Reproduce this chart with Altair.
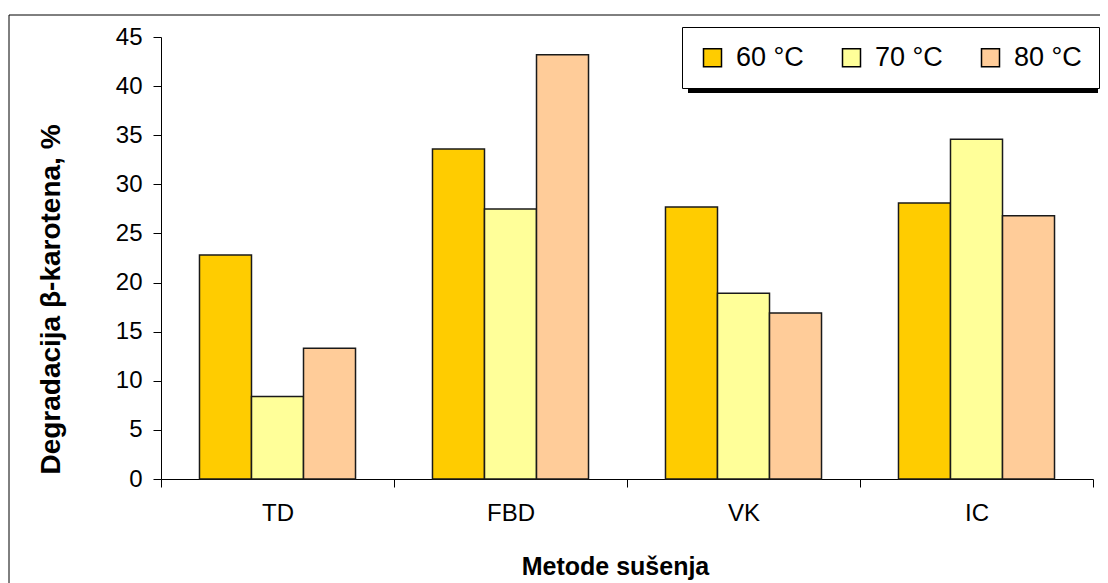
import altair as alt
import pandas as pd

methods = ["TD", "FBD", "VK", "IC"]
temps = ["60 °C", "70 °C", "80 °C"]
t60 = [22.8, 33.6, 27.7, 28.1]
t70 = [8.4, 27.5, 18.9, 34.6]
t80 = [13.3, 43.2, 16.9, 26.8]
colors = ["#FFCC00", "#FFFF99", "#FFCC99"]

rows = []
for i, m in enumerate(methods):
    for t, vals in zip(temps, [t60, t70, t80]):
        rows.append({"method": m, "temp": t, "value": vals[i]})
df = pd.DataFrame(rows)

W, H = 932, 442
FONT = "Liberation Sans"

one = pd.DataFrame({"k": [0]})

frame = alt.Chart(one).mark_rect(fillOpacity=0, stroke="black", strokeWidth=1).encode(
    x=alt.value(-152), x2=alt.value(W + 40), y=alt.value(-22), y2=alt.value(H + 160)
)

shadow = alt.Chart(one).mark_rect(fill="black").encode(
    x=alt.value(527), x2=alt.value(937), y=alt.value(-5), y2=alt.value(56)
)

bars = alt.Chart(df).mark_bar(stroke="#1a1a1a", strokeWidth=1.5).encode(
    x=alt.X(
        "method:N",
        sort=methods,
        scale=alt.Scale(paddingInner=0, paddingOuter=0),
        axis=alt.Axis(
            title="Metode sušenja",
            labelAngle=0,
            tickBand="extent",
            tickSize=8,
            labelPadding=14,
            labelFontSize=24,
            titleFontSize=25,
            titleFontWeight="bold",
            titleX=454,
            titleY=87,
            titleBaseline="middle",
            titleAlign="center",
        ),
    ),
    xOffset=alt.XOffset(
        "temp:N", sort=temps, scale=alt.Scale(paddingOuter=0.74, paddingInner=0)
    ),
    y=alt.Y(
        "value:Q",
        scale=alt.Scale(domain=[0, 45], nice=False),
        axis=alt.Axis(
            values=list(range(0, 50, 5)),
            title="Degradacija β-karotena, %",
            grid=False,
            tickSize=8,
            labelPadding=11,
            labelFontSize=24,
            titleFontSize=28,
            titleFontWeight="bold",
            titleAngle=270,
            titleX=-110,
            titleY=262,
            titleBaseline="middle",
            titleAlign="center",
        ),
    ),
    color=alt.Color(
        "temp:N",
        sort=temps,
        scale=alt.Scale(domain=temps, range=colors),
        legend=alt.Legend(
            title=None,
            orient="none",
            legendX=521,
            legendY=-10,
            direction="horizontal",
            fillColor="white",
            strokeColor="black",
            padding=17,
            symbolType="square",
            symbolSize=324,
            symbolStrokeColor="black",
            symbolStrokeWidth=1.5,
            labelFontSize=27,
            labelFont=FONT,
            labelColor="black",
            labelOffset=10,
            columnPadding=34,
        ),
    ),
)

chart = (
    alt.layer(frame, shadow, bars)
    .properties(
        width=W,
        height=H,
        padding={"left": 153, "top": 29, "right": 7, "bottom": 104},
        autosize=alt.AutoSizeParams(type="none"),
        background="white",
    )
    .configure_view(stroke=None)
    .configure_axis(
        domainColor="black",
        tickColor="black",
        labelColor="black",
        titleColor="black",
        labelFont=FONT,
        titleFont=FONT,
        domainWidth=1,
        tickWidth=1,
    )
)

chart.save("out.html", embed_options={"renderer": "svg", "actions": False})
